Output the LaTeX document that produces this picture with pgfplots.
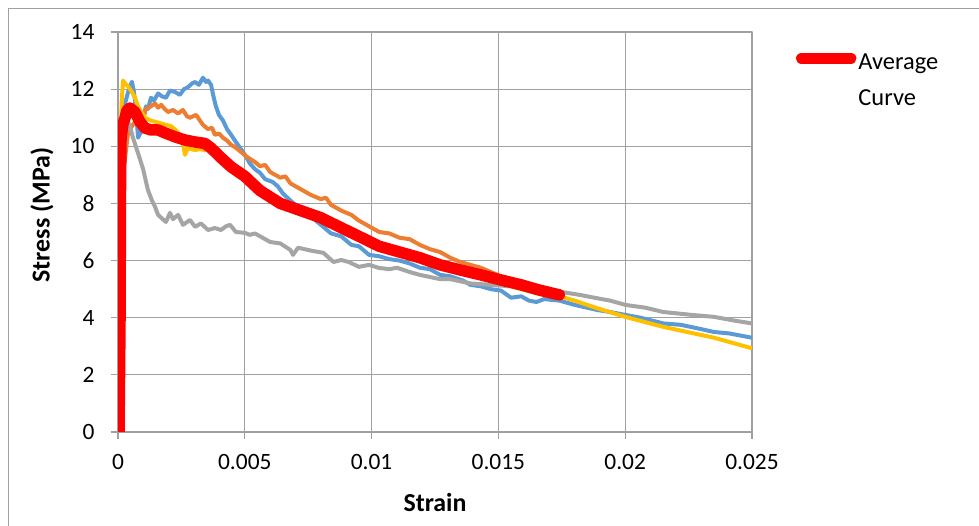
\documentclass[border=0pt]{standalone}
\usepackage{fontspec}
\setmainfont{Carlito}
\usepackage{pgfplots}
\pgfplotsset{compat=1.18}
\definecolor{cblue}{HTML}{5B9BD5}
\definecolor{corange}{HTML}{ED7D31}
\definecolor{cgray}{HTML}{A5A5A5}
\definecolor{cyellow}{HTML}{FFC000}
\definecolor{cred}{HTML}{FF0000}
\definecolor{gridc}{RGB}{160,160,160}
\newcommand\cf{\fontsize{23.5}{28}\selectfont}
\newcommand\lf{\fontsize{26}{31}\selectfont}
\begin{document}
\begin{tikzpicture}
\useasboundingbox (0bp,0bp) rectangle (979bp,526bp);
\draw[color=gridc, line width=1bp] (8bp,0bp) -- (8bp,517bp) -- (979bp,517bp);
\begin{axis}[
  at={(118bp,94bp)}, anchor=south west,
  scale only axis, width=634bp, height=400bp,
  xmin=0, xmax=0.025, ymin=0, ymax=14,
  xtick={0,0.005,0.01,0.015,0.02,0.025},
  xticklabels={0,0.005,0.01,0.015,0.02,0.025},
  ytick={0,2,4,6,8,10,12,14},
  scaled x ticks=false,
  /pgf/number format/assume math mode=true,
  grid=major,
  grid style={color=gridc, line width=1.2bp},
  axis line style={color=gridc, line width=1.2bp},
  major tick style={color=gridc, line width=1.2bp},
  tick align=outside, major tick length=7bp,
  xtick pos=bottom, ytick pos=left,
  ticklabel style={font=\cf},
  xticklabel style={yshift=-12bp},
  yticklabel style={xshift=-13bp},
  xlabel={\textbf{Strain}}, ylabel={\textbf{Stress (MPa)}},
  label style={font=\lf},
  xlabel style={at={(axis description cs:0.5,-0.1775)}, anchor=center},
  ylabel style={at={(axis description cs:-0.12,0.5425)}, anchor=center},
  legend style={draw=none, fill=none, inner sep=0pt, font=\fontsize{24.5}{33}\selectfont,
    at={(rel axis cs:1.069,0.97)}, anchor=north west,
    /tikz/every even column/.append style={column sep=0bp}},
  legend cell align=left,
  legend image code/.code={\draw[#1] (0bp,0bp) -- (49bp,0bp);},
  line join=round,
]
% blue
\addplot[color=cblue, line width=4bp, forget plot] coordinates {
(0,0) (0.00008,4) (0.00016,9) (0.00028,11.5) (0.00043,12.0) (0.00055,12.26) (0.00063,11.9)
(0.00071,11.27) (0.00079,10.3) (0.00091,10.5) (0.00099,10.9) (0.0011,11.4) (0.00118,11.3)
(0.0013,11.7) (0.00142,11.6) (0.00158,11.85) (0.00173,11.75) (0.00189,11.7) (0.00205,11.95)
(0.00225,11.9) (0.00244,11.8) (0.0026,12.0) (0.00276,12.07) (0.00292,12.2) (0.00304,12.25)
(0.00319,12.15) (0.00335,12.4) (0.00347,12.25) (0.00355,12.3) (0.00367,12.15) (0.00375,11.8)
(0.00386,11.4) (0.00398,11.1) (0.00414,10.9) (0.0043,10.6) (0.00446,10.4) (0.00461,10.2)
(0.00481,9.95) (0.00497,9.75) (0.0052,9.4) (0.0054,9.2) (0.0056,9.07) (0.0058,8.85)
(0.0061,8.75) (0.0063,8.6) (0.0065,8.35) (0.0068,8.1) (0.0072,7.8) (0.0076,7.55)
(0.008,7.25) (0.0084,6.95) (0.0088,6.85) (0.0092,6.55) (0.0095,6.5) (0.0099,6.2)
(0.0103,6.15) (0.0107,6.05) (0.0111,6.0) (0.0115,5.9) (0.0119,5.75) (0.0123,5.7)
(0.0127,5.5) (0.0131,5.45) (0.0136,5.3) (0.0139,5.15) (0.0143,5.1) (0.0147,5.0)
(0.0151,4.95) (0.0155,4.7) (0.0159,4.75) (0.0162,4.6) (0.0165,4.55) (0.0168,4.65)
(0.0174,4.6) (0.018,4.45) (0.0189,4.27) (0.0194,4.2) (0.02,4.1) (0.0206,4.0)
(0.0215,3.8) (0.0222,3.75) (0.023,3.6) (0.0235,3.5) (0.0241,3.45) (0.025,3.3)
};
% orange
\addplot[color=corange, line width=4bp, forget plot] coordinates {
(0,0) (0.0001,5) (0.0002,9) (0.0004,10.5) (0.0007,10.9) (0.00099,11.0) (0.0011,11.3)
(0.0013,11.4) (0.00146,11.5) (0.00158,11.35) (0.0017,11.45) (0.00185,11.3) (0.00197,11.2)
(0.00217,11.27) (0.00237,11.15) (0.00256,11.27) (0.00272,11.05) (0.00284,11.0) (0.00308,11.1)
(0.00323,10.9) (0.00335,10.75) (0.00355,10.6) (0.00371,10.65) (0.00382,10.4) (0.00398,10.45)
(0.00414,10.3) (0.0043,10.2) (0.00446,10.05) (0.00465,9.95) (0.00485,9.8) (0.00513,9.6)
(0.0054,9.45) (0.0056,9.3) (0.0058,9.35) (0.006,9.1) (0.0064,8.9) (0.0066,8.95)
(0.0068,8.7) (0.0072,8.5) (0.0076,8.3) (0.008,8.15) (0.0082,8.2) (0.0084,7.95)
(0.0088,7.75) (0.0092,7.6) (0.0095,7.4) (0.0099,7.2) (0.0103,7.0) (0.0107,6.95)
(0.0111,6.8) (0.0115,6.75) (0.0119,6.55) (0.0123,6.4) (0.0127,6.3) (0.0131,6.1)
(0.0135,5.95) (0.0139,5.85) (0.0143,5.75) (0.0147,5.6) (0.0151,5.45) (0.0155,5.35)
(0.0159,5.2) (0.0162,5.1) (0.0166,5.0) (0.017,4.85) (0.0174,4.75)
};
% gray
\addplot[color=cgray, line width=4bp, forget plot] coordinates {
(0,0) (0.0001,5) (0.0002,9) (0.0003,10.5) (0.0004,10.85) (0.00047,10.7) (0.00059,10.3)
(0.00079,9.76) (0.00099,9.2) (0.00118,8.47) (0.00134,8.1) (0.00146,7.88) (0.00158,7.6)
(0.0017,7.5) (0.00189,7.35) (0.00205,7.67) (0.00217,7.45) (0.00237,7.6) (0.00256,7.25)
(0.00284,7.42) (0.00304,7.18) (0.00327,7.3) (0.00355,7.07) (0.00382,7.14) (0.00406,7.07)
(0.00426,7.2) (0.00442,7.25) (0.00465,7.0) (0.005,6.97) (0.0052,6.9) (0.0054,6.95)
(0.0056,6.85) (0.006,6.65) (0.0064,6.6) (0.0068,6.37) (0.0069,6.2) (0.0071,6.45)
(0.0076,6.35) (0.0081,6.27) (0.0085,5.95) (0.0088,6.02) (0.0091,5.95) (0.0095,5.78)
(0.0099,5.85) (0.0103,5.74) (0.0107,5.7) (0.011,5.75) (0.0115,5.6) (0.0119,5.5)
(0.0127,5.35) (0.0131,5.35) (0.0139,5.2) (0.0147,5.15) (0.0155,5.1) (0.0162,5.05)
(0.0168,5.0) (0.0175,4.9) (0.0182,4.8) (0.0189,4.68) (0.0194,4.6) (0.02,4.45)
(0.0208,4.35) (0.0215,4.2) (0.0226,4.1) (0.0235,4.03) (0.0243,3.9) (0.025,3.8)
};
% yellow
\addplot[color=cyellow, line width=4bp, forget plot] coordinates {
(0,0) (0.00005,3) (0.0001,8) (0.00014,11.5) (0.0002,12.3) (0.00028,12.2) (0.00039,12.1)
(0.00055,11.9) (0.00067,11.7) (0.00079,11.4) (0.00087,11.27) (0.00106,11.0) (0.0013,10.9)
(0.0015,10.85) (0.0017,10.8) (0.0019,10.75) (0.0021,10.7) (0.0023,10.55) (0.00244,10.4)
(0.00256,10.15) (0.00264,9.7) (0.00276,9.94) (0.00288,9.9) (0.00304,9.87) (0.00323,9.9)
(0.00343,9.87) (0.00363,9.85) (0.00402,9.5) (0.00442,9.15) (0.005,8.8) (0.0056,8.35)
(0.0064,7.9) (0.0072,7.65) (0.008,7.4) (0.0088,7.05) (0.0095,6.75) (0.0103,6.45)
(0.0111,6.2) (0.0119,6.0) (0.0127,5.75) (0.0135,5.55) (0.0143,5.4) (0.0151,5.2)
(0.0159,5.0) (0.0166,4.85) (0.0174,4.75) (0.018,4.6) (0.0189,4.33) (0.02,4.03)
(0.0215,3.68) (0.0235,3.3) (0.025,2.93)
};
% average
\addplot[color=cred, line width=11.5bp, line cap=round] coordinates {
(0,0) (0.00004,0) (0.00008,4) (0.0001,8.8) (0.00012,10.3) (0.0002,10.8) (0.00028,11.0)
(0.00035,11.25) (0.00047,11.34) (0.00067,11.2) (0.00087,10.85) (0.00106,10.64) (0.0013,10.57)
(0.00158,10.57) (0.00185,10.47) (0.00225,10.33) (0.00264,10.22) (0.00304,10.15) (0.00343,10.1)
(0.00367,9.94) (0.00406,9.6) (0.00446,9.28) (0.005,8.95) (0.0056,8.45) (0.0064,8.0)
(0.0072,7.75) (0.008,7.5) (0.0088,7.15) (0.0095,6.85) (0.0103,6.5) (0.0111,6.3)
(0.0119,6.1) (0.0127,5.85) (0.0135,5.67) (0.0143,5.5) (0.0151,5.32) (0.0159,5.15)
(0.0166,4.97) (0.0174,4.8)
};
\addlegendentry{\begin{tabular}[t]{@{}l@{}}Average\\[3bp]Curve\end{tabular}}
\end{axis}
\end{tikzpicture}
\end{document}
